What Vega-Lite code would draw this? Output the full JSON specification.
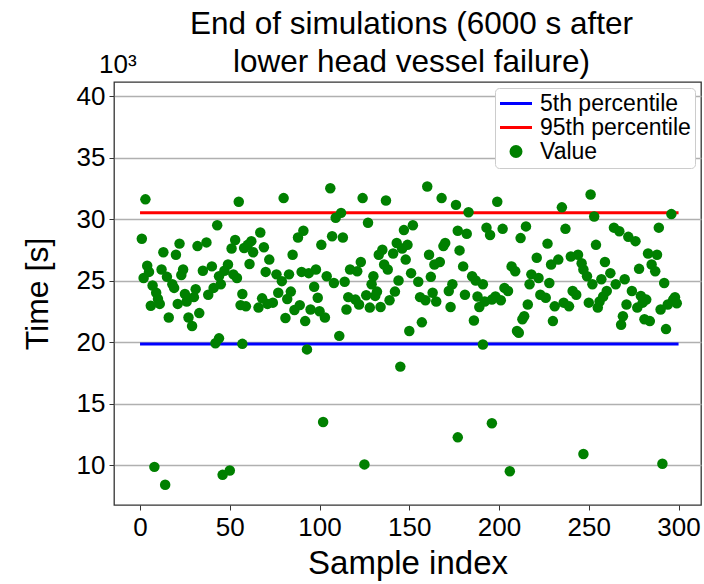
{
  "$schema": "https://vega.github.io/schema/vega-lite/v6.json",
  "width": 587,
  "height": 423,
  "autosize": "none",
  "padding": {"left": 114, "top": 82, "right": 3, "bottom": 79},
  "background": "white",
  "config": {
    "font": "Liberation Sans",
    "view": {"stroke": "#333333", "strokeWidth": 1.3},
    "axis": {"labelColor": "black", "titleColor": "black", "labelFont": "Liberation Sans", "titleFont": "Liberation Sans", "titleFontWeight": "normal"}
  },
  "title": {
    "text": ["End of simulations (6000 s after", "lower head vessel failure)"],
    "fontSize": 31.5,
    "fontWeight": "normal",
    "font": "Liberation Sans",
    "color": "black",
    "lineHeight": 38,
    "offset": -26,
    "anchor": "middle",
    "frame": "group",
    "dx": 4
  },
  "datasets": {
    "pct": [
      {"series": "5th percentile", "value": 19.83, "start": 0, "end": 300},
      {"series": "95th percentile", "value": 30.5, "start": 0, "end": 300}
    ],
    "points": [
      {"index": 3, "value": 31.6, "series": "Value"}, {"index": 55, "value": 31.4, "series": "Value"}, {"index": 80, "value": 31.7, "series": "Value"}, {"index": 106, "value": 32.5, "series": "Value"}, {"index": 124, "value": 31.7, "series": "Value"}, {"index": 137, "value": 31.5, "series": "Value"}, {"index": 112, "value": 30.5, "series": "Value"}, {"index": 109, "value": 30.1, "series": "Value"}, {"index": 43, "value": 29.5, "series": "Value"}, {"index": 127, "value": 29.7, "series": "Value"}, {"index": 1, "value": 28.4, "series": "Value"}, {"index": 147, "value": 29.1, "series": "Value"}, {"index": 152, "value": 29.5, "series": "Value"},
      {"index": 91, "value": 29.05, "series": "Value"}, {"index": 88, "value": 28.5, "series": "Value"}, {"index": 67, "value": 28.9, "series": "Value"}, {"index": 62, "value": 28.2, "series": "Value"}, {"index": 60, "value": 27.9, "series": "Value"}, {"index": 58, "value": 27.65, "series": "Value"}, {"index": 63, "value": 27.3, "series": "Value"}, {"index": 69, "value": 27.7, "series": "Value"},
      {"index": 53, "value": 28.3, "series": "Value"}, {"index": 51, "value": 27.6, "series": "Value"}, {"index": 37, "value": 28.1, "series": "Value"}, {"index": 32, "value": 27.8, "series": "Value"}, {"index": 22, "value": 28.0, "series": "Value"}, {"index": 20, "value": 27.1, "series": "Value"}, {"index": 13, "value": 27.3, "series": "Value"}, {"index": 107, "value": 28.6, "series": "Value"}, {"index": 113, "value": 28.5, "series": "Value"}, {"index": 101, "value": 27.9, "series": "Value"}, {"index": 85, "value": 27.1, "series": "Value"}, {"index": 72, "value": 26.7, "series": "Value"}, {"index": 135, "value": 27.5, "series": "Value"}, {"index": 133, "value": 27.1, "series": "Value"}, {"index": 143, "value": 28.05, "series": "Value"}, {"index": 141, "value": 27.2, "series": "Value"}, {"index": 146, "value": 27.6, "series": "Value"}, {"index": 149, "value": 27.9, "series": "Value"}, {"index": 148, "value": 26.7, "series": "Value"}, {"index": 123, "value": 26.5, "series": "Value"},
      {"index": 4, "value": 26.2, "series": "Value"}, {"index": 5, "value": 25.7, "series": "Value"}, {"index": 2, "value": 25.2, "series": "Value"}, {"index": 12, "value": 25.9, "series": "Value"}, {"index": 15, "value": 25.3, "series": "Value"}, {"index": 18, "value": 24.7, "series": "Value"}, {"index": 24, "value": 25.9, "series": "Value"}, {"index": 23, "value": 25.45, "series": "Value"}, {"index": 35, "value": 25.8, "series": "Value"}, {"index": 40, "value": 26.15, "series": "Value"}, {"index": 44, "value": 25.35, "series": "Value"}, {"index": 47, "value": 25.8, "series": "Value"}, {"index": 49, "value": 26.3, "series": "Value"}, {"index": 52, "value": 25.5, "series": "Value"}, {"index": 54, "value": 25.2, "series": "Value"}, {"index": 61, "value": 26.35, "series": "Value"}, {"index": 70, "value": 25.7, "series": "Value"}, {"index": 76, "value": 25.5, "series": "Value"}, {"index": 83, "value": 25.5, "series": "Value"}, {"index": 79, "value": 24.95, "series": "Value"}, {"index": 90, "value": 25.7, "series": "Value"}, {"index": 94, "value": 25.6, "series": "Value"}, {"index": 98, "value": 25.9, "series": "Value"}, {"index": 104, "value": 25.35, "series": "Value"}, {"index": 108, "value": 24.8, "series": "Value"}, {"index": 114, "value": 24.9, "series": "Value"}, {"index": 117, "value": 25.9, "series": "Value"}, {"index": 121, "value": 25.75, "series": "Value"}, {"index": 130, "value": 25.35, "series": "Value"}, {"index": 138, "value": 25.9, "series": "Value"}, {"index": 136, "value": 26.3, "series": "Value"}, {"index": 144, "value": 25.0, "series": "Value"}, {"index": 151, "value": 25.6, "series": "Value"},
      {"index": 7, "value": 24.6, "series": "Value"}, {"index": 9, "value": 24.0, "series": "Value"}, {"index": 10, "value": 23.5, "series": "Value"}, {"index": 6, "value": 22.95, "series": "Value"}, {"index": 11, "value": 23.1, "series": "Value"}, {"index": 19, "value": 24.4, "series": "Value"}, {"index": 25, "value": 23.9, "series": "Value"}, {"index": 21, "value": 23.1, "series": "Value"}, {"index": 26, "value": 23.3, "series": "Value"}, {"index": 30, "value": 23.65, "series": "Value"}, {"index": 31, "value": 24.3, "series": "Value"}, {"index": 38, "value": 23.85, "series": "Value"}, {"index": 41, "value": 24.4, "series": "Value"}, {"index": 45, "value": 24.7, "series": "Value"}, {"index": 16, "value": 22.0, "series": "Value"}, {"index": 27, "value": 22.0, "series": "Value"}, {"index": 33, "value": 22.35, "series": "Value"}, {"index": 29, "value": 21.3, "series": "Value"}, {"index": 56, "value": 23.0, "series": "Value"}, {"index": 59, "value": 22.9, "series": "Value"}, {"index": 57, "value": 23.9, "series": "Value"}, {"index": 66, "value": 22.8, "series": "Value"}, {"index": 68, "value": 23.55, "series": "Value"}, {"index": 71, "value": 23.1, "series": "Value"}, {"index": 74, "value": 23.2, "series": "Value"}, {"index": 77, "value": 24.0, "series": "Value"}, {"index": 81, "value": 21.95, "series": "Value"}, {"index": 82, "value": 23.5, "series": "Value"}, {"index": 84, "value": 24.1, "series": "Value"}, {"index": 86, "value": 22.6, "series": "Value"}, {"index": 89, "value": 23.0, "series": "Value"}, {"index": 92, "value": 21.7, "series": "Value"}, {"index": 95, "value": 22.65, "series": "Value"}, {"index": 97, "value": 24.5, "series": "Value"}, {"index": 99, "value": 23.6, "series": "Value"}, {"index": 100, "value": 22.5, "series": "Value"}, {"index": 103, "value": 22.0, "series": "Value"}, {"index": 115, "value": 22.65, "series": "Value"}, {"index": 116, "value": 23.65, "series": "Value"}, {"index": 120, "value": 23.45, "series": "Value"}, {"index": 122, "value": 23.05, "series": "Value"}, {"index": 126, "value": 23.8, "series": "Value"}, {"index": 128, "value": 22.8, "series": "Value"}, {"index": 129, "value": 24.7, "series": "Value"}, {"index": 131, "value": 23.75, "series": "Value"}, {"index": 134, "value": 22.85, "series": "Value"}, {"index": 132, "value": 24.1, "series": "Value"}, {"index": 139, "value": 23.4, "series": "Value"}, {"index": 142, "value": 24.1, "series": "Value"}, {"index": 150, "value": 20.9, "series": "Value"},
      {"index": 42, "value": 19.9, "series": "Value"}, {"index": 44, "value": 20.3, "series": "Value"}, {"index": 57, "value": 19.85, "series": "Value"}, {"index": 93, "value": 19.4, "series": "Value"}, {"index": 111, "value": 20.5, "series": "Value"},
      {"index": 160, "value": 32.65, "series": "Value"}, {"index": 168, "value": 31.7, "series": "Value"}, {"index": 176, "value": 31.15, "series": "Value"}, {"index": 183, "value": 30.55, "series": "Value"}, {"index": 199, "value": 31.4, "series": "Value"}, {"index": 235, "value": 30.95, "series": "Value"}, {"index": 251, "value": 32.0, "series": "Value"}, {"index": 253, "value": 30.2, "series": "Value"}, {"index": 296, "value": 30.4, "series": "Value"},
      {"index": 177, "value": 29.05, "series": "Value"}, {"index": 182, "value": 28.8, "series": "Value"}, {"index": 193, "value": 29.3, "series": "Value"}, {"index": 195, "value": 28.7, "series": "Value"}, {"index": 202, "value": 29.2, "series": "Value"}, {"index": 215, "value": 29.4, "series": "Value"}, {"index": 212, "value": 28.45, "series": "Value"}, {"index": 227, "value": 28.0, "series": "Value"}, {"index": 237, "value": 29.2, "series": "Value"}, {"index": 254, "value": 27.9, "series": "Value"}, {"index": 264, "value": 29.3, "series": "Value"}, {"index": 267, "value": 29.0, "series": "Value"}, {"index": 272, "value": 28.55, "series": "Value"}, {"index": 276, "value": 28.2, "series": "Value"}, {"index": 289, "value": 29.3, "series": "Value"},
      {"index": 169, "value": 27.8, "series": "Value"}, {"index": 170, "value": 28.05, "series": "Value"}, {"index": 161, "value": 27.1, "series": "Value"}, {"index": 178, "value": 27.45, "series": "Value"}, {"index": 164, "value": 26.3, "series": "Value"}, {"index": 167, "value": 26.5, "series": "Value"}, {"index": 180, "value": 26.15, "series": "Value"}, {"index": 162, "value": 25.3, "series": "Value"}, {"index": 155, "value": 24.9, "series": "Value"}, {"index": 174, "value": 24.7, "series": "Value"}, {"index": 185, "value": 25.35, "series": "Value"}, {"index": 187, "value": 25.0, "series": "Value"}, {"index": 191, "value": 24.7, "series": "Value"}, {"index": 207, "value": 26.15, "series": "Value"}, {"index": 209, "value": 25.75, "series": "Value"}, {"index": 218, "value": 25.5, "series": "Value"}, {"index": 222, "value": 25.2, "series": "Value"}, {"index": 217, "value": 24.7, "series": "Value"}, {"index": 221, "value": 26.85, "series": "Value"}, {"index": 229, "value": 26.3, "series": "Value"}, {"index": 233, "value": 26.7, "series": "Value"}, {"index": 240, "value": 26.95, "series": "Value"}, {"index": 244, "value": 27.1, "series": "Value"}, {"index": 246, "value": 26.4, "series": "Value"}, {"index": 247, "value": 25.9, "series": "Value"}, {"index": 249, "value": 25.35, "series": "Value"}, {"index": 228, "value": 24.8, "series": "Value"}, {"index": 252, "value": 24.7, "series": "Value"}, {"index": 257, "value": 25.1, "series": "Value"}, {"index": 259, "value": 26.5, "series": "Value"}, {"index": 262, "value": 25.6, "series": "Value"}, {"index": 265, "value": 24.7, "series": "Value"}, {"index": 270, "value": 25.1, "series": "Value"}, {"index": 278, "value": 25.95, "series": "Value"}, {"index": 283, "value": 27.2, "series": "Value"}, {"index": 288, "value": 27.1, "series": "Value"}, {"index": 285, "value": 26.3, "series": "Value"}, {"index": 287, "value": 25.75, "series": "Value"}, {"index": 292, "value": 24.8, "series": "Value"},
      {"index": 156, "value": 23.65, "series": "Value"}, {"index": 159, "value": 23.4, "series": "Value"}, {"index": 165, "value": 23.3, "series": "Value"}, {"index": 163, "value": 24.0, "series": "Value"}, {"index": 173, "value": 22.85, "series": "Value"}, {"index": 172, "value": 24.15, "series": "Value"}, {"index": 181, "value": 23.85, "series": "Value"}, {"index": 186, "value": 21.75, "series": "Value"}, {"index": 188, "value": 23.7, "series": "Value"}, {"index": 189, "value": 22.85, "series": "Value"}, {"index": 192, "value": 23.3, "series": "Value"}, {"index": 196, "value": 23.45, "series": "Value"}, {"index": 198, "value": 23.7, "series": "Value"}, {"index": 201, "value": 23.4, "series": "Value"}, {"index": 203, "value": 24.4, "series": "Value"}, {"index": 205, "value": 24.15, "series": "Value"}, {"index": 216, "value": 23.05, "series": "Value"}, {"index": 214, "value": 22.1, "series": "Value"}, {"index": 213, "value": 21.85, "series": "Value"}, {"index": 210, "value": 20.9, "series": "Value"}, {"index": 211, "value": 20.75, "series": "Value"}, {"index": 223, "value": 23.85, "series": "Value"}, {"index": 226, "value": 23.6, "series": "Value"}, {"index": 230, "value": 21.7, "series": "Value"}, {"index": 231, "value": 22.9, "series": "Value"}, {"index": 236, "value": 23.2, "series": "Value"}, {"index": 239, "value": 22.9, "series": "Value"}, {"index": 241, "value": 24.15, "series": "Value"}, {"index": 243, "value": 23.85, "series": "Value"}, {"index": 250, "value": 23.2, "series": "Value"}, {"index": 255, "value": 22.8, "series": "Value"}, {"index": 256, "value": 23.3, "series": "Value"}, {"index": 258, "value": 23.7, "series": "Value"}, {"index": 260, "value": 24.15, "series": "Value"}, {"index": 269, "value": 22.1, "series": "Value"}, {"index": 268, "value": 21.4, "series": "Value"}, {"index": 271, "value": 23.05, "series": "Value"}, {"index": 274, "value": 24.15, "series": "Value"}, {"index": 279, "value": 23.75, "series": "Value"}, {"index": 280, "value": 23.2, "series": "Value"}, {"index": 282, "value": 23.45, "series": "Value"}, {"index": 277, "value": 22.8, "series": "Value"}, {"index": 281, "value": 21.85, "series": "Value"}, {"index": 284, "value": 21.7, "series": "Value"}, {"index": 290, "value": 22.65, "series": "Value"}, {"index": 293, "value": 21.05, "series": "Value"}, {"index": 294, "value": 23.05, "series": "Value"}, {"index": 297, "value": 23.45, "series": "Value"}, {"index": 299, "value": 23.15, "series": "Value"}, {"index": 298, "value": 23.65, "series": "Value"}, {"index": 157, "value": 21.6, "series": "Value"}, {"index": 191, "value": 19.8, "series": "Value"},
      {"index": 8, "value": 9.85, "series": "Value"}, {"index": 14, "value": 8.4, "series": "Value"}, {"index": 46, "value": 9.2, "series": "Value"}, {"index": 50, "value": 9.55, "series": "Value"}, {"index": 102, "value": 13.5, "series": "Value"}, {"index": 125, "value": 10.05, "series": "Value"}, {"index": 145, "value": 18.0, "series": "Value"}, {"index": 177, "value": 12.25, "series": "Value"}, {"index": 196, "value": 13.4, "series": "Value"}, {"index": 206, "value": 9.5, "series": "Value"}, {"index": 247, "value": 10.9, "series": "Value"}, {"index": 291, "value": 10.1, "series": "Value"}
    ],
    "note": [{"label": "10³"}]
  },
  "layer": [
    {
      "data": {"name": "pct"},
      "mark": {"type": "rule", "strokeWidth": 3},
      "encoding": {
        "x": {
          "field": "start", "type": "quantitative",
          "scale": {"domain": [-14.5, 312.5], "nice": false, "zero": false},
          "axis": {"values": [0, 50, 100, 150, 200, 250, 300], "title": "Sample index", "titleFontSize": 33, "titlePadding": 7, "labelFontSize": 26, "labelPadding": 4, "tickSize": 5, "tickColor": "#333333", "domain": false, "grid": false}
        },
        "x2": {"field": "end"},
        "y": {
          "field": "value", "type": "quantitative",
          "scale": {"domain": [6.75, 41.14], "nice": false, "zero": false},
          "axis": {"values": [10, 15, 20, 25, 30, 35, 40], "title": "Time [s]", "titleFontSize": 32, "titlePadding": 22, "labelFontSize": 26, "labelPadding": 4, "tickSize": 5, "tickColor": "#333333", "domain": false, "grid": true, "gridColor": "#b0b0b0", "gridWidth": 1.3}
        },
        "color": {
          "field": "series", "type": "nominal",
          "scale": {"domain": ["5th percentile", "95th percentile", "Value"], "range": ["#0000ff", "#ff0000", "#008000"]},
          "legend": {
            "title": null,
            "orient": "top-right",
            "offset": 6,
            "labelFontSize": 23,
            "labelFont": "Liberation Sans",
            "labelColor": "black",
            "fillColor": "white",
            "strokeColor": "#cccccc",
            "cornerRadius": 4,
            "padding": 4,
            "rowPadding": -2,
            "symbolSize": 256,
            "symbolStrokeWidth": 3,
            "labelOffset": 18,
            "encode": {
              "symbols": {
                "update": {
                  "x": {"value": 17},
                  "shape": {"signal": "datum.value === 'Value' ? 'circle' : 'M-2,0H2'"},
                  "size": {"signal": "datum.value === 'Value' ? 100 : 256"},
                  "stroke": {"signal": "datum.value === 'Value' ? 'transparent' : scale('color', datum.value)"},
                  "fill": {"signal": "datum.value === 'Value' ? scale('color', datum.value) : 'transparent'"},
                  "strokeWidth": {"value": 3},
                  "opacity": {"value": 1}
                }
              }
            }
          }
        }
      }
    },
    {
      "data": {"name": "points"},
      "mark": {"type": "circle", "size": 110, "opacity": 1},
      "encoding": {
        "x": {"field": "index", "type": "quantitative"},
        "y": {"field": "value", "type": "quantitative"},
        "color": {"field": "series", "type": "nominal"}
      }
    },
    {
      "data": {"name": "note"},
      "mark": {"type": "text", "align": "left", "baseline": "alphabetic", "fontSize": 26, "font": "Liberation Sans", "color": "black", "dx": -15, "dy": -9, "clip": false},
      "encoding": {
        "x": {"datum": -14.5, "type": "quantitative"},
        "y": {"datum": 41.14, "type": "quantitative"},
        "text": {"field": "label"}
      }
    }
  ]
}
